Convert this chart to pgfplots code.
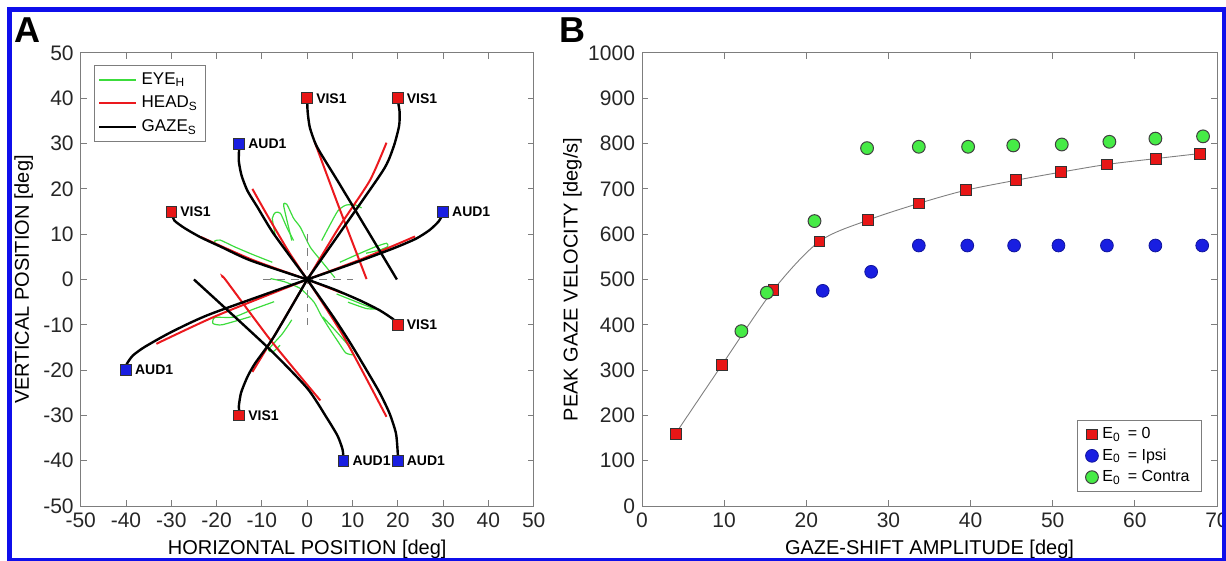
\documentclass[border=0pt]{standalone}
\usepackage{fontspec}
\setmainfont{Liberation Sans}
\usepackage{pgfplots}
\pgfplotsset{compat=1.18}

\definecolor{eyegreen}{RGB}{60,220,60}
\definecolor{headred}{RGB}{235,25,30}
\definecolor{mkred}{RGB}{232,22,22}
\definecolor{mkblue}{RGB}{25,30,225}
\definecolor{mkgreen}{RGB}{70,235,70}
\definecolor{axgray}{RGB}{125,125,125}
\definecolor{frameblue}{RGB}{15,15,235}

\pgfplotsset{
  matlab/.style={
    scale only axis,
    axis line style={draw=axgray, line width=0.5pt},
    tick style={draw=axgray, line width=0.5pt},
    major tick length=3pt,
    tick align=inside,
    tick pos=both,
    ticklabel style={font=\fontsize{10.5}{12}\selectfont, text=black!85},
    label style={font=\fontsize{11.5}{13}\selectfont, text=black!85},
    /pgf/number format/assume math mode=true,
    /pgf/number format/1000 sep={},
  },
  gaze/.style={black, line width=1.2pt, smooth, tension=0.4, forget plot},
  head/.style={headred, line width=1pt, smooth, tension=0.4, forget plot},
  eye/.style={eyegreen, line width=0.6pt, smooth, tension=0.35, forget plot},
}

\begin{document}
\begin{tikzpicture}

% ---------------- panel A ----------------
\begin{axis}[matlab,
  at={(40.35pt,-253pt)}, anchor=south west,
  width=226.5pt, height=226.5pt,
  xmin=-50, xmax=50, ymin=-50, ymax=50,
  xtick={-50,-40,...,50}, ytick={-50,-40,...,50},
  xlabel={HORIZONTAL POSITION [deg]},
  ylabel={VERTICAL POSITION [deg]},
  every axis x label/.style={at={(axis description cs:0.5,-0.095)}, anchor=center},
  every axis y label/.style={at={(axis description cs:-0.126,0.5)}, rotate=90, anchor=center},
  legend style={at={(rel axis cs:0.029,0.9735)}, anchor=north west, draw=axgray,
    font=\fontsize{8.5}{10}\selectfont, inner xsep=2pt, inner ysep=1.5pt, row sep=0.5pt,
    cells={anchor=west}},
  legend image code/.code={\draw[#1] (0pt,0pt) -- (18.5pt,0pt);},
]
% eye traces
\addplot[eyegreen, line width=0.6pt, smooth, tension=0.35,
  legend image code/.code={\draw[eyegreen, line width=0.9pt] (0pt,0pt) -- (18.5pt,0pt);}]
  coordinates {(-7.7,3.8)(-12,5.5)(-16,7.2)(-19.2,8.7)(-20.4,8.5)(-20.3,7.7)};
\addlegendentry{EYE\textsubscript{H}}
\addplot[eye] coordinates {(-3,8.6)(-4.5,11.5)(-5.9,14.6)(-7,14.8)(-7.7,13.5)(-7,9.5)};
\addplot[eye] coordinates {(-3.4,8.6)(-5.2,16.3)(-4.5,16.6)(-3,13.5)(-1.5,11.5)(0.7,7.1)(3.6,3.5)(6.1,0.4)};
\addplot[eye] coordinates {(3.2,8.6)(5,12)(6.8,15.2)(8.5,16.4)(10.5,16.5)(12,15.8)};
\addplot[eye] coordinates {(7.2,3.8)(11,5.5)(15,7.2)(17.5,8.0)(17.8,7.3)(16,6.5)(13,5.8)};
\addplot[eye] coordinates {(-8.1,0.2)(-5,-0.5)(-1.5,-2)(1.5,-5)(3,-7.8)(5,-11)(7,-14)(8.5,-16.2)(10.2,-16.6)(9.3,-14.8)(6,-11)(3.5,-8.3)};
\addplot[eye] coordinates {(-7.3,-4.9)(-12,-6.6)(-16.2,-8.3)(-20.4,-8.4)(-20.8,-9.7)(-18.8,-10.0)(-12.5,-8.2)};
\addplot[eye] coordinates {(-3.4,-8.9)(-5.5,-12)(-8.5,-15.4)(-7.6,-16)(-6,-14.5)};
\addplot[eye] coordinates {(6.5,-3.2)(10,-4.6)(13.8,-6.1)(15.2,-6.5)(13,-6.4)(9,-5)};
% dashed cross
\addplot[axgray, line width=0.5pt, dash pattern=on 4pt off 3pt, forget plot] coordinates {(-9.7,0)(10,0)};
\addplot[axgray, line width=0.5pt, dash pattern=on 4pt off 3pt, forget plot] coordinates {(0,10)(0,-10)};
% head traces
\addplot[headred, line width=1pt, smooth, tension=0.4] coordinates {(0.3,0.4)(7,11.5)(13.8,21.8)(17.5,30.2)};
\addlegendentry{HEAD\textsubscript{S}}
\addplot[head] coordinates {(13.1,0.1)(7,16)(1.6,30.5)};
\addplot[head] coordinates {(0,0)(-4,6)(-9,14.5)(-12.1,20)};
\addplot[head] coordinates {(0,0)(-12,4.3)(-23.5,9.4)};
\addplot[head] coordinates {(0,0)(12,4.5)(23.8,9.5)};
\addplot[head] coordinates {(0,0)(-20,-8)(-33.3,-14.2)};
\addplot[head] coordinates {(0,0)(8,-3.1)};
\addplot[head] coordinates {(0,0)(-7,-12)(-12.1,-20.4)};
\addplot[head] coordinates {(-18.6,0.4)(-18,-0.1)(-8,-13.5)(2.9,-26.7)};
\addplot[head] coordinates {(0,0)(8,-12.5)(17.5,-30.3)};
% gaze traces
\addplot[black, line width=1.2pt, smooth, tension=0.4] coordinates {(0,0)(15.3,21.9)(17.8,26)(19.3,30)(20.3,34)(20.4,37)(20,39.5)};
\addlegendentry{GAZE\textsubscript{S}}
\addplot[gaze] coordinates {(19.8,0)(12.9,11.5)(6.7,21.8)(2.2,29.2)(0.6,33.5)(0.1,37)(0,39.5)};
\addplot[gaze] coordinates {(0,0)(-7.4,10.1)(-11,16)(-13.2,19.6)(-14.5,23)(-15.1,26.2)(-15,29.3)};
\addplot[gaze] coordinates {(0,0)(-12.5,4.2)(-19,7.2)(-23.5,9.3)(-27,11.3)(-29.3,13)(-29.8,14.5)};
\addplot[gaze] coordinates {(0,0)(10,3.5)(19.1,6.9)(24,9)(27,10.9)(29,12.8)(30,14.5)};
\addplot[gaze] coordinates {(0,0)(-21.3,-7.6)(-30,-11.6)(-35.9,-14.9)(-38.5,-16.8)(-39.8,-18.6)(-40,-19.5)};
\addplot[gaze] coordinates {(0,0)(6,-2.2)(11.6,-4.6)(16,-6.8)(18.9,-8.7)(19.8,-9.5)};
\addplot[gaze] coordinates {(0,0)(-7.4,-12.7)(-11.5,-18.5)(-13.2,-21.5)(-14.6,-25)(-15.1,-28.1)(-14.9,-29.5)};
\addplot[gaze] coordinates {(-25,0)(-8.8,-14.9)(0,-24)(4.3,-30.5)(6.7,-34.5)(7.8,-37.5)(8,-39.5)};
\addplot[gaze] coordinates {(0,0)(5.8,-8.3)(9.5,-14)(13.1,-20)(16,-25)(18.2,-29.6)(19.6,-34)(20,-38.5)(20,-39.5)};
% targets
\addplot[only marks, mark=square*, mark size=2.7pt,
  mark options={fill=mkred, draw=black!80, line width=0.4pt},
  nodes near coords, point meta=explicit symbolic,
  every node near coord/.append style={anchor=west, xshift=1pt,
    font=\fontsize{7}{8}\selectfont\bfseries, text=black},
  forget plot] table[meta=label] {
x y label
0 40 VIS1
20 40 VIS1
-30 15 VIS1
20 -10 VIS1
-15 -30 VIS1
};
\addplot[only marks, mark=square*, mark size=2.7pt,
  mark options={fill=mkblue, draw=black!80, line width=0.4pt},
  nodes near coords, point meta=explicit symbolic,
  every node near coord/.append style={anchor=west, xshift=1pt,
    font=\fontsize{7}{8}\selectfont\bfseries, text=black},
  forget plot] table[meta=label] {
x y label
-15 30 AUD1
30 15 AUD1
-40 -20 AUD1
8 -40 AUD1
20 -40 AUD1
};
\end{axis}

% ---------------- panel B ----------------
\begin{axis}[matlab,
  at={(321pt,-253pt)}, anchor=south west,
  width=287.5pt, height=226.5pt,
  xmin=0, xmax=70, ymin=0, ymax=1000,
  xtick={0,10,...,70}, ytick={0,100,...,1000},
  xlabel={GAZE-SHIFT AMPLITUDE [deg]},
  ylabel={PEAK GAZE VELOCITY [deg/s]},
  every axis x label/.style={at={(axis description cs:0.5,-0.095)}, anchor=center},
  every axis y label/.style={at={(axis description cs:-0.121,0.5)}, rotate=90, anchor=center},
  legend style={at={(rel axis cs:0.974,0.0316)}, anchor=south east, draw=axgray,
    font=\fontsize{8}{9}\selectfont, inner xsep=4pt, inner ysep=1.5pt, row sep=-0.5pt,
    cells={anchor=west}},
]
\addplot[gray, line width=0.45pt, smooth, forget plot] coordinates {
(4.1,160)(9.75,312)(16.0,477)(21.6,584)(27.5,631)(33.7,668)(39.4,697)(45.5,719)(51.0,737)(56.6,754)(62.6,767)(67.9,778)};
\addplot[only marks, mark=square*, mark size=2.7pt, mark options={fill=mkred, draw=black!80, line width=0.4pt}] coordinates {
(4.1,160)(9.75,312)(16.0,477)(21.6,584)(27.5,631)(33.7,668)(39.4,697)(45.5,719)(51.0,737)(56.6,754)(62.6,767)(67.9,778)};
\addlegendentry{E\textsubscript{0} \,= 0}
\addplot[only marks, mark=*, mark size=3.2pt, mark options={fill=mkblue, draw=mkblue!70!black, line width=0.4pt}] coordinates {
(22.0,475)(27.9,517)(33.7,575)(39.6,575)(45.3,575)(50.7,575)(56.6,575)(62.5,575)(68.2,575)};
\addlegendentry{E\textsubscript{0} \,= Ipsi}
\addplot[only marks, mark=*, mark size=3.2pt, mark options={fill=mkgreen, draw=black!75, line width=0.5pt}] coordinates {
(12.1,386)(15.2,471)(21.0,629)(27.4,790)(33.7,793)(39.7,793)(45.2,796)(51.1,798)(56.9,804)(62.5,811)(68.3,816)};
\addlegendentry{E\textsubscript{0} \,= Contra}
\end{axis}

\node[font=\fontsize{18}{18}\selectfont\bfseries] at (13.5pt,-15pt) {A};
\node[font=\fontsize{18}{18}\selectfont\bfseries] at (286pt,-15pt) {B};
\draw[frameblue, line width=2.5pt] (4.9pt,-5pt) rectangle (612pt,-280pt);

\pgfresetboundingbox
\path[use as bounding box] (0pt,0pt) rectangle (613pt,-280.5pt);
\end{tikzpicture}
\end{document}
